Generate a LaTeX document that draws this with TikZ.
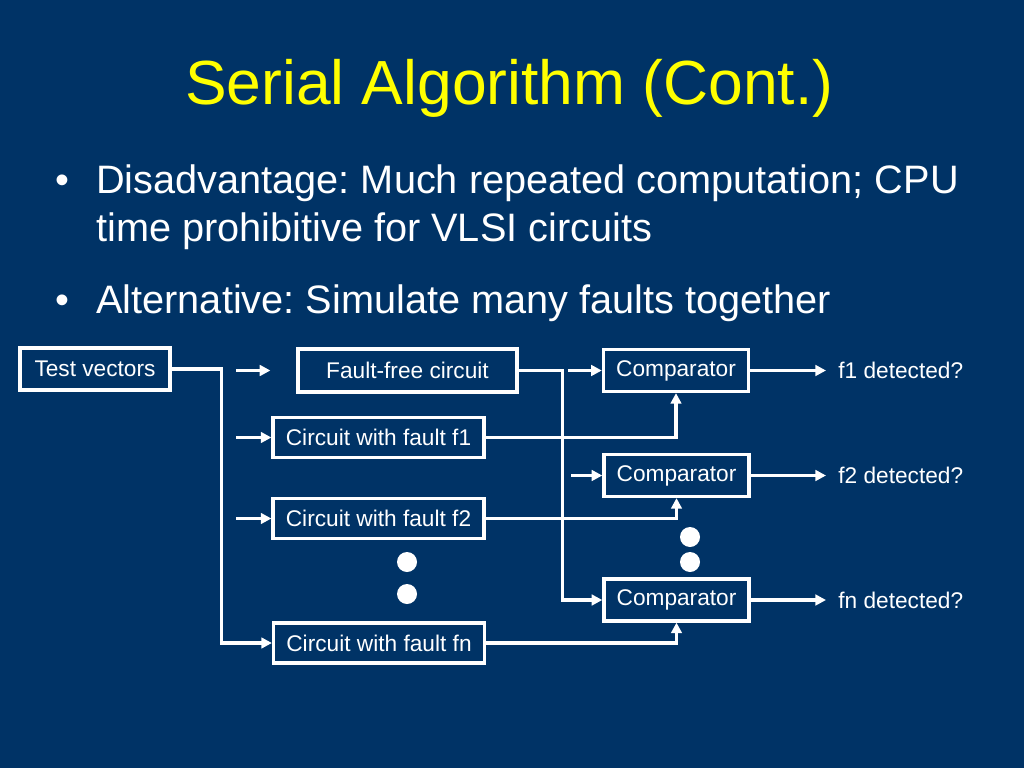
\documentclass[tikz,border=0pt]{standalone}
\usepackage{fontspec}
\setmainfont{Liberation Sans}
\frenchspacing
\usepackage{tikz}
\usetikzlibrary{arrows.meta, calc, positioning}
\definecolor{slidebg}{RGB}{0,51,102}
\definecolor{titleyellow}{RGB}{255,255,0}
\tikzset{
	box/.style={draw=white, line width=2.3pt, text=white, inner sep=0pt, font=\fontsize{16}{19}\selectfont}
}
\tikzset{
	wire/.style={draw=white, line width=2.3pt, -{Triangle[length=7.5pt,width=7.5pt]}}
}
\tikzset{
	outlbl/.style={text=white, inner xsep=0.3cm, inner ysep=0pt, anchor=west, font=\fontsize{16}{19}\selectfont},
	bullettext/.style={text=white, inner sep=0pt, anchor=base west, font=\fontsize{28}{34}\selectfont},
	dot/.style={fill=white}
}

\begin{document}
\begin{tikzpicture}[x=0.0248cm, y=-0.0248cm]
      \fill[slidebg] (0,0) rectangle (1024,768);
      \node[inner sep=0pt, anchor=base west, text=titleyellow, font=\fontsize{44}{53}\selectfont] (title) at (185,105) {Serial Algorithm (Cont.)};
      \node[bullettext] (b1) at (55,193) {\textbullet};
      \node[bullettext] (t1) at (96,193) {Disadvantage: Much repeated computation; CPU};
      \node[bullettext] (t2) at (96,241) {time prohibitive for VLSI circuits};
      \node[bullettext] (b2) at (55,313) {\textbullet};
      \node[bullettext] (t3) at (96,313) {Alternative: Simulate many faults together};

      \node[box, minimum width=3.72cm, minimum height=1.04cm] (tv) at (95,369) {Test vectors};
      \node[box, minimum width=5.43cm, minimum height=1.07cm] (ff) at (407.5,370.5) {Fault-free circuit};
      \node[box, minimum width=5.23cm, minimum height=0.99cm] (c1) at (378.5,437.5) {Circuit with fault f1};
      \node[box, minimum width=5.23cm, minimum height=0.99cm] (c2) at (378.5,518.5) {Circuit with fault f2};
      \node[box, minimum width=5.23cm, minimum height=0.99cm] (cn) at (379,643) {Circuit with fault fn};
      \node[box, minimum width=3.6cm, minimum height=1.04cm] (cmp1) at (676,370.5) {Comparator};
      \node[box, minimum width=3.6cm, minimum height=1.04cm] (cmp2) at (676.5,475.5) {Comparator};
      \node[box, minimum width=3.6cm, minimum height=1.04cm] (cmpn) at (676.5,600) {Comparator};
      \node[outlbl] (d1) at (826,370.5) {f1 detected?};
      \node[outlbl] (d2) at (826,475.5) {f2 detected?};
      \node[outlbl] (dn) at (826,600) {fn detected?};

      \foreach \p in {(407,562), (407,594), (690,537), (690,562)}
        \fill[dot] \p circle (10);

      \draw[wire] (tv.east) -- ++(50,0) |- (cn.west);
      \draw[wire] ($(ff.west)+(-60,0)$) -- ($(ff.west)+(-26,0)$);
      \draw[wire] ($(c1.west)+(-35,0)$) -- (c1.west);
      \draw[wire] ($(c2.west)+(-35,0)$) -- (c2.west);
      \draw[wire] (ff.east) -- ++(44,0) |- (cmpn.west);
      \draw[wire] ($(cmp1.west)+(-34,0)$) -- (cmp1.west);
      \draw[wire] ($(cmp2.west)+(-31,0)$) -- (cmp2.west);
      \draw[wire] (c1.east) -| (cmp1.south);
      \draw[wire] (c2.east) -| (cmp2.south);
      \draw[wire] (cn.east) -| (cmpn.south);
      \draw[wire] (cmp1.east) -- (d1.west);
      \draw[wire] (cmp2.east) -- (d2.west);
      \draw[wire] (cmpn.east) -- (dn.west);
    \end{tikzpicture}
\end{document}
